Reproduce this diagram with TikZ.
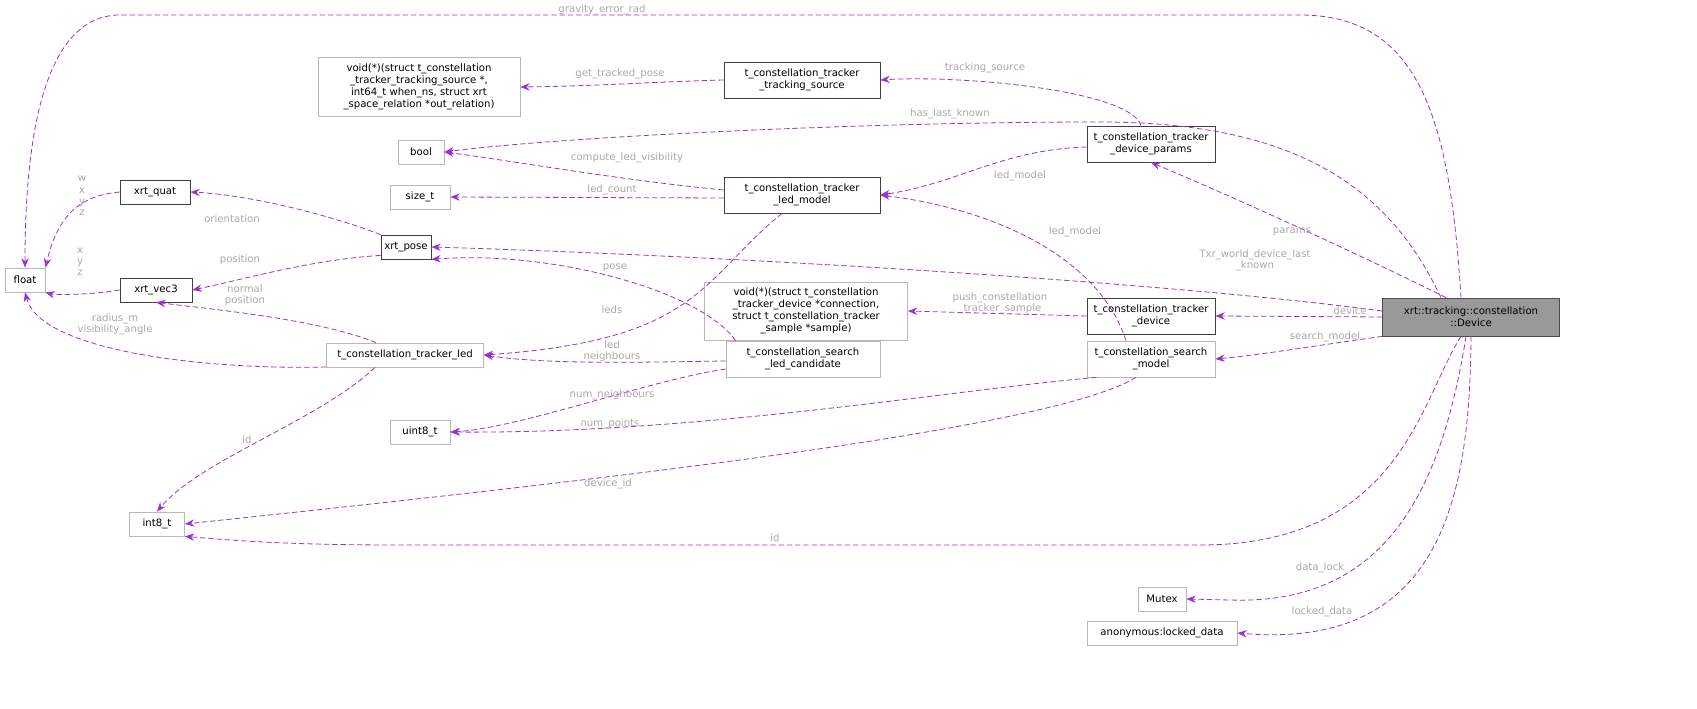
\documentclass[tikz,border=0pt]{standalone}
\usepackage{fontspec}
\setmainfont{DejaVu Sans}
\usetikzlibrary{arrows.meta}
\definecolor{edgec}{HTML}{9A32CD}
\definecolor{labc}{HTML}{A8A8A8}
\begin{document}
\begin{tikzpicture}[x=0.75pt,y=-0.75pt,
  every node/.style={font=\fontsize{7.6}{9}\selectfont},
  nd/.style={draw=#1,fill=white,inner sep=2pt,align=center,line width=0.6pt},
  nd/.default={black!75},
  gn/.style={nd=black!28},
  e/.style={draw=edgec,dashed,dash pattern=on 4pt off 2.2pt,line width=0.6pt,-{Stealth[length=7pt,width=5.5pt]}},
  lb/.style={text=labc,inner sep=0pt,align=center,font=\fontsize{7.6}{8.4}\selectfont}]
\useasboundingbox (0,0) rectangle (1697,709);
% nodes
\node[gn,minimum width=40*0.75pt,minimum height=24*0.75pt] (float) at (25,280) {float};
\node[nd,minimum width=70*0.75pt,minimum height=24*0.75pt] (quat) at (155,192) {xrt\_quat};
\node[nd,minimum width=72*0.75pt,minimum height=24*0.75pt] (vec3) at (156,290) {xrt\_vec3};
\node[nd,minimum width=50*0.75pt,minimum height=24*0.75pt] (pose) at (406,247) {xrt\_pose};
\node[gn,minimum width=46*0.75pt,minimum height=24*0.75pt] (bool) at (421,152) {bool};
\node[gn,minimum width=60*0.75pt,minimum height=24*0.75pt] (size) at (420,197) {size\_t};
\node[gn,minimum width=202*0.75pt,minimum height=59*0.75pt] (void1) at (419,87) {void(*)(struct t\_constellation\\\_tracker\_tracking\_source *,\\ int64\_t when\_ns, struct xrt\\\_space\_relation *out\_relation)};
\node[nd,minimum width=156*0.75pt,minimum height=36*0.75pt] (ts) at (802,80) {t\_constellation\_tracker\\\_tracking\_source};
\node[nd,minimum width=156*0.75pt,minimum height=36*0.75pt] (lm) at (802,195) {t\_constellation\_tracker\\\_led\_model};
\node[nd,minimum width=128*0.75pt,minimum height=36*0.75pt] (dp) at (1151,144) {t\_constellation\_tracker\\\_device\_params};
\node[gn,minimum width=203*0.75pt,minimum height=58*0.75pt] (void2) at (806,311) {void(*)(struct t\_constellation\\\_tracker\_device *connection,\\ struct t\_constellation\_tracker\\\_sample *sample)};
\node[nd,minimum width=128*0.75pt,minimum height=36*0.75pt] (dev) at (1151,316) {t\_constellation\_tracker\\\_device};
\node[gn,minimum width=157*0.75pt,minimum height=24*0.75pt] (led) at (405,355) {t\_constellation\_tracker\_led};
\node[gn,minimum width=154*0.75pt,minimum height=36*0.75pt] (cand) at (803,359) {t\_constellation\_search\\\_led\_candidate};
\node[gn,minimum width=128*0.75pt,minimum height=36*0.75pt] (sm) at (1151,359) {t\_constellation\_search\\\_model};
\node[gn,minimum width=60*0.75pt,minimum height=24*0.75pt] (u8) at (420,432) {uint8\_t};
\node[gn,minimum width=55*0.75pt,minimum height=24*0.75pt] (i8) at (157,524) {int8\_t};
\node[gn,minimum width=48*0.75pt,minimum height=24*0.75pt] (mtx) at (1162,599) {Mutex};
\node[gn,minimum width=150*0.75pt,minimum height=24*0.75pt] (ld) at (1162,633) {anonymous:locked\_data};
\node[nd=black!70,fill=black!40,minimum width=177*0.75pt,minimum height=38*0.75pt] (D) at (1471,317) {xrt::tracking::constellation\\::Device};
% edges
\draw[e] (D.north) ++(-10,0) .. controls (1450,120) and (1420,15) .. (1300,15) -- (120,15) .. controls (40,15) and (25,150) .. (float.north);
\node[lb] at (602,10) {gravity\_error\_rad};
\draw[e] (ts.west) .. controls (650,82) and (600,86) .. (void1.east);
\node[lb] at (620,74) {get\_tracked\_pose};
\draw[e] (dp.north) ++(-10,0) .. controls (1130,90) and (960,75) .. (ts.east);
\node[lb] at (985,68) {tracking\_source};
\draw[e] (D.north) ++(-30,0) .. controls (1390,190) and (1300,122) .. (1100,122) .. controls (850,122) and (550,138) .. (bool.east);
\node[lb] at (950,114) {has\_last\_known};
\draw[e] (lm.west) ++(0,-5) .. controls (620,180) and (520,162) .. (bool.east);
\node[lb] at (627,158) {compute\_led\_visibility};
\draw[e] (lm.west) ++(0,3) -- (size.east);
\node[lb] at (612,190) {led\_count};
\draw[e] (dp.west) ++(0,3) .. controls (1000,150) and (960,183) .. (lm.east);
\node[lb] at (1020,176) {led\_model};
\draw[e] (D.north) ++(-25,0) .. controls (1350,250) and (1240,200) .. (dp.south);
\node[lb] at (1292,232) {params};
\draw[e] (quat.west) .. controls (90,195) and (60,205) .. (float.north east);
\node[lb] at (82,196) {w\\x\\y\\z};
\draw[e] (pose.north west) .. controls (330,215) and (250,195) .. (quat.east);
\node[lb] at (232,219) {orientation};
\draw[e] (pose.south west) ++(0,-4) .. controls (310,260) and (250,278) .. (vec3.east);
\node[lb] at (240,260) {position};
\draw[e] (D.west) ++(0,-6) .. controls (1150,280) and (700,255) .. (pose.east);
\node[lb] at (1255,260) {Txr\_world\_device\_last\\\_known};
\draw[e] (vec3.west) .. controls (90,295) and (55,295) .. (float.south east);
\node[lb] at (80,262) {x\\y\\z};
\draw[e] (led.north west) ++(50,0) .. controls (320,320) and (220,310) .. (vec3.south);
\node[lb] at (245,295) {normal\\position};
\draw[e] (led.west) ++(0,12) .. controls (200,370) and (40,350) .. (float.south);
\node[lb] at (115,324) {radius\_m\\visibility\_angle};
\draw[e] (lm.south) ++(-20,0) .. controls (700,280) and (700,340) .. (led.east);
\node[lb] at (612,310) {leds};
\draw[e] (cand.north west) ++(10,0) .. controls (700,290) and (550,250) .. (pose.south east);
\node[lb] at (615,268) {pose};
\draw[e] (sm.north) ++(-25,0) .. controls (1100,260) and (1000,210) .. (lm.east);
\node[lb] at (1075,232) {led\_model};
\draw[e] (dev.west) -- (void2.east);
\node[lb] at (1000,303) {push\_constellation\\\_tracker\_sample};
\draw[e] (D.west) -- (dev.east);
\node[lb] at (1350,311) {device};
\draw[e] (D.south west) .. controls (1320,345) and (1260,355) .. (sm.east);
\node[lb] at (1325,337) {search\_model};
\draw[e] (cand.west) ++(0,2) .. controls (650,362) and (550,365) .. (led.east);
\node[lb] at (612,351) {led\\neighbours};
\draw[e] (cand.west) ++(0,10) .. controls (650,380) and (520,428) .. (u8.east);
\node[lb] at (612,395) {num\_neighbours};
\draw[e] (sm.south west) ++(10,0) .. controls (950,390) and (700,434) .. (u8.east);
\node[lb] at (610,424) {num\_points};
\draw[e] (led.south) ++(-30,0) .. controls (320,420) and (200,460) .. (i8.north);
\node[lb] at (247,440) {id};
\draw[e] (sm.south) ++(-15,0) .. controls (1050,430) and (600,480) .. (i8.east);
\node[lb] at (608,484) {device\_id};
\draw[e] (D.south) ++(-10,0) .. controls (1420,400) and (1400,545) .. (1200,545) -- (400,545) .. controls (280,545) and (230,540) .. (i8.south east);
\node[lb] at (775,538) {id};
\draw[e] (D.south) ++(-5,0) .. controls (1440,500) and (1380,605) .. (1230,600) -- (mtx.east);
\node[lb] at (1320,568) {data\_lock};
\draw[e] (D.south) .. controls (1470,500) and (1440,650) .. (ld.east);
\node[lb] at (1322,612) {locked\_data};
\end{tikzpicture}
\end{document}
